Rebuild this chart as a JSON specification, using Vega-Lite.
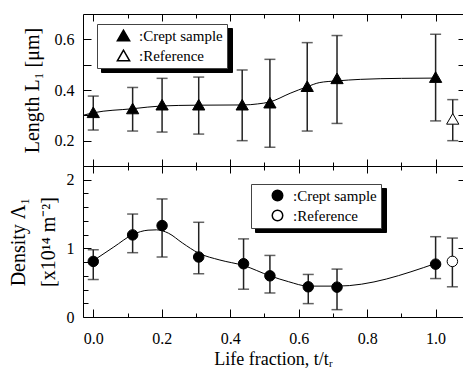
{
  "$schema": "https://vega.github.io/schema/vega-lite/v6.json",
  "padding": {"left": 8, "top": 13, "right": 0, "bottom": 0},
  "spacing": 0,
  "bounds": "flush",
  "resolve": {"scale": {"shape": "independent", "fill": "independent", "opacity": "independent"}, "legend": {"shape": "independent", "fill": "independent", "opacity": "independent"}},
  "config": {
    "font": "Liberation Serif",
    "view": {"stroke": null},
    "axis": {
      "domainColor": "black", "tickColor": "black", "labelColor": "black", "titleColor": "black",
      "labelFont": "Liberation Serif", "titleFont": "Liberation Serif",
      "labelFontSize": 15, "titleFontSize": 20, "titleFontWeight": "normal",
      "grid": false, "domainWidth": 1, "tickWidth": 1
    },
    "legend": {"labelFont": "Liberation Serif", "labelFontSize": 15, "labelColor": "black"}
  },
  "datasets": {
    "lenPts": [
      {"t": 0.0, "L": 0.312, "lo": 0.242, "hi": 0.376, "series": ":Crept sample"},
      {"t": 0.115, "L": 0.327, "lo": 0.238, "hi": 0.41, "series": ":Crept sample"},
      {"t": 0.201, "L": 0.342, "lo": 0.234, "hi": 0.446, "series": ":Crept sample"},
      {"t": 0.308, "L": 0.342, "lo": 0.226, "hi": 0.451, "series": ":Crept sample"},
      {"t": 0.435, "L": 0.342, "lo": 0.2, "hi": 0.479, "series": ":Crept sample"},
      {"t": 0.516, "L": 0.35, "lo": 0.174, "hi": 0.521, "series": ":Crept sample"},
      {"t": 0.625, "L": 0.415, "lo": 0.238, "hi": 0.587, "series": ":Crept sample"},
      {"t": 0.712, "L": 0.446, "lo": 0.268, "hi": 0.615, "series": ":Crept sample"},
      {"t": 1.0, "L": 0.451, "lo": 0.278, "hi": 0.62, "series": ":Crept sample"},
      {"t": 1.05, "L": 0.286, "lo": 0.2, "hi": 0.362, "series": ":Reference"}
    ],
    "lenCurve": [
      {"t": -0.03, "L": 0.3}, {"t": 0.0, "L": 0.31}, {"t": 0.115, "L": 0.326}, {"t": 0.2, "L": 0.337},
      {"t": 0.3, "L": 0.34}, {"t": 0.44, "L": 0.341}, {"t": 0.48, "L": 0.345}, {"t": 0.516, "L": 0.353},
      {"t": 0.575, "L": 0.387}, {"t": 0.625, "L": 0.413}, {"t": 0.66, "L": 0.429}, {"t": 0.712, "L": 0.436},
      {"t": 0.78, "L": 0.442}, {"t": 0.9, "L": 0.446}, {"t": 1.0, "L": 0.447}
    ],
    "denPts": [
      {"t": 0.0, "D": 0.81, "lo": 0.546, "hi": 0.98, "series": ":Crept sample"},
      {"t": 0.115, "D": 1.196, "lo": 0.937, "hi": 1.5, "series": ":Crept sample"},
      {"t": 0.201, "D": 1.332, "lo": 0.874, "hi": 1.72, "series": ":Crept sample"},
      {"t": 0.308, "D": 0.874, "lo": 0.63, "hi": 1.38, "series": ":Crept sample"},
      {"t": 0.439, "D": 0.776, "lo": 0.405, "hi": 1.138, "series": ":Crept sample"},
      {"t": 0.516, "D": 0.6, "lo": 0.35, "hi": 0.897, "series": ":Crept sample"},
      {"t": 0.628, "D": 0.44, "lo": 0.195, "hi": 0.62, "series": ":Crept sample"},
      {"t": 0.712, "D": 0.435, "lo": 0.107, "hi": 0.698, "series": ":Crept sample"},
      {"t": 1.0, "D": 0.77, "lo": 0.56, "hi": 1.17, "series": ":Crept sample"},
      {"t": 1.049, "D": 0.81, "lo": 0.44, "hi": 1.15, "series": ":Reference"}
    ],
    "denCurve": [
      {"t": 0.0, "D": 0.82}, {"t": 0.06, "D": 1.02}, {"t": 0.115, "D": 1.2}, {"t": 0.16, "D": 1.265},
      {"t": 0.185, "D": 1.27}, {"t": 0.22, "D": 1.22}, {"t": 0.26, "D": 1.08}, {"t": 0.308, "D": 0.93},
      {"t": 0.37, "D": 0.83}, {"t": 0.439, "D": 0.75}, {"t": 0.516, "D": 0.6}, {"t": 0.57, "D": 0.515},
      {"t": 0.628, "D": 0.45}, {"t": 0.712, "D": 0.45}, {"t": 1.0, "D": 0.78}
    ]
  },
  "vconcat": [
    {
      "width": 380,
      "height": 152,
      "resolve": {"axis": {"x": "independent", "y": "independent"}},
      "layer": [
        {
          "data": {"name": "lenCurve"},
          "mark": {"type": "line", "interpolate": "monotone", "color": "black", "strokeWidth": 1, "clip": true},
          "encoding": {
            "x": {"field": "t", "type": "quantitative", "scale": {"domain": [-0.03, 1.08], "nice": false, "zero": false},
              "axis": {"orient": "bottom", "values": [0, 0.1, 0.2, 0.3, 0.4, 0.5, 0.6, 0.7, 0.8, 0.9, 1], "labels": false, "title": null,
                "tickSize": {"condition": {"test": "round(datum.value*10) % 2 == 0", "value": -7}, "value": -4}}},
            "y": {"field": "L", "type": "quantitative", "scale": {"domain": [0.1, 0.7], "nice": false, "zero": false},
              "axis": {"orient": "left", "values": [0.2, 0.3, 0.4, 0.5, 0.6], "title": "Length L₁ [μm]", "tickSize": -8, "labelPadding": 17, "titlePadding": 12,
                "labelFont": "Liberation Serif", "labelFontSize": 16,
                "labelExpr": "round(datum.value*10) % 2 == 0 ? format(datum.value, '.1f') : ''"}}
          }
        },
        {
          "data": {"name": "lenPts"},
          "mark": {"type": "rule", "color": "#222", "strokeWidth": 1.5},
          "encoding": {
            "x": {"field": "t", "type": "quantitative", "scale": {"domain": [-0.03, 1.08], "nice": false, "zero": false},
              "axis": {"orient": "top", "values": [0, 0.1, 0.2, 0.3, 0.4, 0.5, 0.6, 0.7, 0.8, 0.9, 1], "labels": false, "title": null,
                "tickSize": {"condition": {"test": "round(datum.value*10) % 2 == 0", "value": -7}, "value": -4}}},
            "y": {"field": "lo", "type": "quantitative", "scale": {"domain": [0.1, 0.7], "nice": false, "zero": false},
              "axis": {"orient": "right", "values": [0.2, 0.3, 0.4, 0.5, 0.6], "labels": false, "title": null, "tickSize": -5, "domain": false}},
            "y2": {"field": "hi"},
            "opacity": {"field": "series", "type": "nominal",
              "scale": {"domain": [":Reference", ":Crept sample"], "range": [1, 1]},
              "legend": {"orient": "none", "legendX": 18, "legendY": 14, "title": null, "padding": 4, "symbolOffset": 100, "labelOffset": 8,
                "labelExpr": "''",
                "labelFontSize": 15, "labelFont": "Liberation Serif", "labelColor": "black", "strokeColor": "black", "fillColor": "black",
                "symbolSize": 150, "rowPadding": 3, "symbolType": "triangle-up", "symbolFillColor": "black", "symbolStrokeColor": "black"}}
          }
        },
        {
          "data": {"name": "lenPts"},
          "mark": {"type": "tick", "orient": "horizontal", "size": 11, "thickness": 1.5, "color": "#222"},
          "encoding": {
            "x": {"field": "t", "type": "quantitative", "axis": null},
            "y": {"field": "lo", "type": "quantitative", "axis": null}
          }
        },
        {
          "data": {"name": "lenPts"},
          "mark": {"type": "tick", "orient": "horizontal", "size": 11, "thickness": 1.5, "color": "#222"},
          "encoding": {
            "x": {"field": "t", "type": "quantitative", "axis": null},
            "y": {"field": "hi", "type": "quantitative", "axis": null}
          }
        },
        {
          "data": {"name": "lenPts"},
          "mark": {"type": "point", "filled": true, "stroke": "black", "strokeWidth": 1, "size": 150, "opacity": 1},
          "encoding": {
            "x": {"field": "t", "type": "quantitative", "axis": null},
            "y": {"field": "L", "type": "quantitative", "axis": null},
            "shape": {"field": "series", "type": "nominal",
              "scale": {"domain": [":Crept sample", ":Reference"], "range": ["triangle-up", "triangle-up"]},
              "legend": {"orient": "none", "legendX": 14, "legendY": 10, "title": null, "padding": 4, "symbolOffset": 15, "labelOffset": 8,
                "labelFontSize": 15, "labelFont": "Liberation Serif", "labelColor": "black", "strokeColor": "#444", "fillColor": "white",
                "symbolSize": 150, "rowPadding": 3,
                "encode": {"symbols": {"update": {"stroke": {"value": "black"}, "strokeWidth": {"value": 1}}}}}},
            "fill": {"field": "series", "type": "nominal",
              "scale": {"domain": [":Crept sample", ":Reference"], "range": ["black", "white"]},
              "legend": {"orient": "none", "legendX": 14, "legendY": 10, "title": null, "padding": 4, "symbolOffset": 15, "labelOffset": 8,
                "labelFontSize": 15, "labelFont": "Liberation Serif", "labelColor": "black", "strokeColor": "#444", "fillColor": "white",
                "symbolSize": 150, "rowPadding": 3,
                "encode": {"symbols": {"update": {"stroke": {"value": "black"}, "strokeWidth": {"value": 1}}}}}}
          }
        }
      ]
    },
    {
      "width": 380,
      "height": 151,
      "resolve": {"axis": {"x": "independent", "y": "independent"}},
      "layer": [
        {
          "data": {"name": "denCurve"},
          "mark": {"type": "line", "interpolate": "monotone", "color": "black", "strokeWidth": 1, "clip": true},
          "encoding": {
            "x": {"field": "t", "type": "quantitative", "scale": {"domain": [-0.03, 1.08], "nice": false, "zero": false},
              "axis": {"orient": "bottom", "values": [0, 0.1, 0.2, 0.3, 0.4, 0.5, 0.6, 0.7, 0.8, 0.9, 1], "title": "Life fraction, t/tᵣ",
                "titleFontSize": 18, "labelPadding": 21, "titlePadding": 4, "labelFont": "Liberation Serif", "labelFontSize": 16,
                "labelExpr": "round(datum.value*10) % 2 == 0 ? format(datum.value, '.1f') : ''",
                "tickSize": {"condition": {"test": "round(datum.value*10) % 2 == 0", "value": -8}, "value": -4}}},
            "y": {"field": "D", "type": "quantitative", "scale": {"domain": [0, 2.2], "nice": false, "zero": false},
              "axis": {"orient": "left", "values": [0, 0.2, 0.4, 0.6, 0.8, 1, 1.2, 1.4, 1.6, 1.8, 2], "title": ["Density Λ₁", "[x10¹⁴ m⁻²]"],
                "titleLineHeight": 30, "labelPadding": 17, "titlePadding": 8, "labelFont": "Liberation Serif", "labelFontSize": 16,
                "labelExpr": "datum.value % 1 == 0 ? format(datum.value, 'd') : ''",
                "tickSize": {"condition": {"test": "datum.value % 1 == 0", "value": -8}, "value": -5}}}
          }
        },
        {
          "data": {"name": "denPts"},
          "mark": {"type": "rule", "color": "#222", "strokeWidth": 1.5},
          "encoding": {
            "x": {"field": "t", "type": "quantitative", "scale": {"domain": [-0.03, 1.08], "nice": false, "zero": false},
              "axis": {"orient": "top", "values": [0, 0.1, 0.2, 0.3, 0.4, 0.5, 0.6, 0.7, 0.8, 0.9, 1], "labels": false, "title": null,
                "tickSize": {"condition": {"test": "round(datum.value*10) % 2 == 0", "value": -7}, "value": -4}}},
            "y": {"field": "lo", "type": "quantitative", "scale": {"domain": [0, 2.2], "nice": false, "zero": false},
              "axis": {"orient": "right", "values": [0, 1, 2], "labels": false, "title": null, "tickSize": -5, "domain": false}},
            "y2": {"field": "hi"},
            "opacity": {"field": "series", "type": "nominal",
              "scale": {"domain": [":Reference", ":Crept sample"], "range": [1, 1]},
              "legend": {"orient": "none", "legendX": 172, "legendY": 22, "title": null, "padding": 4, "symbolOffset": 100, "labelOffset": 8,
                "labelExpr": "''",
                "labelFontSize": 15, "labelFont": "Liberation Serif", "labelColor": "black", "strokeColor": "black", "fillColor": "black",
                "symbolSize": 110, "rowPadding": 3, "symbolType": "circle", "symbolFillColor": "black", "symbolStrokeColor": "black"}}
          }
        },
        {
          "data": {"name": "denPts"},
          "mark": {"type": "tick", "orient": "horizontal", "size": 11, "thickness": 1.5, "color": "#222"},
          "encoding": {
            "x": {"field": "t", "type": "quantitative", "axis": null},
            "y": {"field": "lo", "type": "quantitative", "axis": null}
          }
        },
        {
          "data": {"name": "denPts"},
          "mark": {"type": "tick", "orient": "horizontal", "size": 11, "thickness": 1.5, "color": "#222"},
          "encoding": {
            "x": {"field": "t", "type": "quantitative", "axis": null},
            "y": {"field": "hi", "type": "quantitative", "axis": null}
          }
        },
        {
          "data": {"name": "denPts"},
          "mark": {"type": "point", "filled": true, "stroke": "black", "strokeWidth": 1, "size": 110, "opacity": 1},
          "encoding": {
            "x": {"field": "t", "type": "quantitative", "axis": null},
            "y": {"field": "D", "type": "quantitative", "axis": null},
            "shape": {"field": "series", "type": "nominal",
              "scale": {"domain": [":Crept sample", ":Reference"], "range": ["circle", "circle"]},
              "legend": {"orient": "none", "legendX": 168, "legendY": 18, "title": null, "padding": 4, "symbolOffset": 15, "labelOffset": 8,
                "labelFontSize": 15, "labelFont": "Liberation Serif", "labelColor": "black", "strokeColor": "#444", "fillColor": "white",
                "symbolSize": 110, "rowPadding": 3,
                "encode": {"symbols": {"update": {"stroke": {"value": "black"}, "strokeWidth": {"value": 1}}}}}},
            "fill": {"field": "series", "type": "nominal",
              "scale": {"domain": [":Crept sample", ":Reference"], "range": ["black", "white"]},
              "legend": {"orient": "none", "legendX": 168, "legendY": 18, "title": null, "padding": 4, "symbolOffset": 15, "labelOffset": 8,
                "labelFontSize": 15, "labelFont": "Liberation Serif", "labelColor": "black", "strokeColor": "#444", "fillColor": "white",
                "symbolSize": 110, "rowPadding": 3,
                "encode": {"symbols": {"update": {"stroke": {"value": "black"}, "strokeWidth": {"value": 1}}}}}}
          }
        }
      ]
    }
  ]
}
